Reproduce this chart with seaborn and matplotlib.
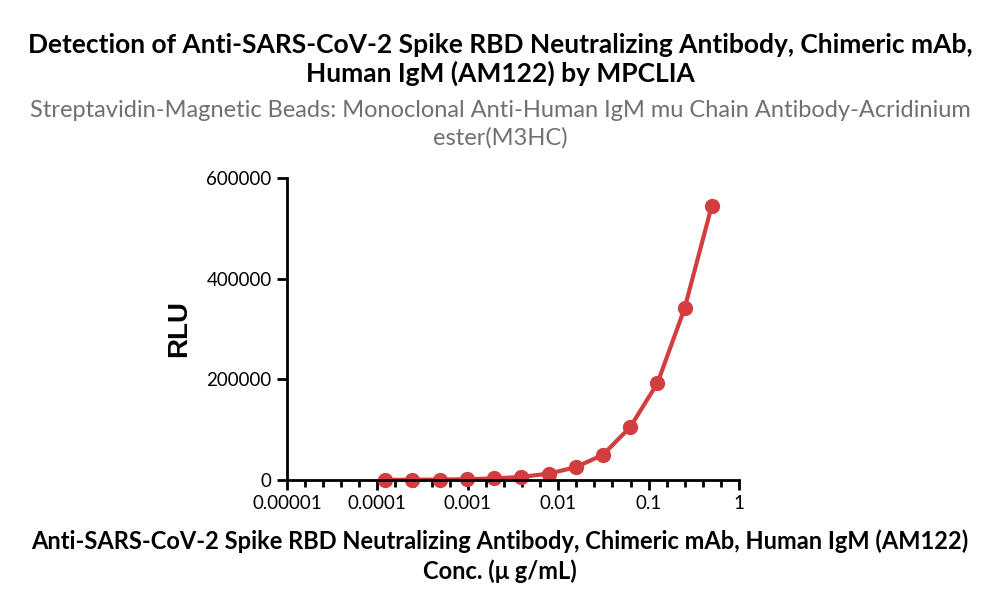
import numpy as np
import pandas as pd
import seaborn as sns
import matplotlib.pyplot as plt
from matplotlib.ticker import FixedLocator, NullFormatter

# concentrations (ug/mL), 2-fold serial dilution
conc = [0.5, 0.25, 0.125, 0.0625, 0.03125, 0.015625, 0.0078125,
        0.00390625, 0.001953125, 0.0009765625, 0.00048828125,
        0.000244140625, 0.0001220703125]
rlu = [545000, 341000, 192000, 105000, 50000, 25500, 12500,
       6200, 3000, 1600, 900, 500, 300]

x_ticks = [0.00001, 0.0001, 0.001, 0.01, 0.1, 1]
x_tick_labels = ["0.00001", "0.0001", "0.001", "0.01", "0.1", "1"]
y_ticks = [0, 200000, 400000, 600000]

title = ("Detection of Anti-SARS-CoV-2 Spike RBD Neutralizing Antibody, Chimeric mAb,\n"
         "Human IgM (AM122) by MPCLIA")
subtitle = ("Streptavidin-Magnetic Beads: Monoclonal Anti-Human IgM mu Chain Antibody-Acridinium\n"
            "ester(M3HC)")
xlabel = ("Anti-SARS-CoV-2 Spike RBD Neutralizing Antibody, Chimeric mAb, Human IgM (AM122)\n"
          "Conc. (\u03bc g/mL)")

df = pd.DataFrame({"conc": conc, "rlu": rlu})
red = "#d43d3f"

sns.set_style("ticks")
plt.rcParams['font.family'] = ['Lato', 'DejaVu Sans']
plt.rcParams['text.color'] = 'black'
plt.rcParams['xtick.color'] = 'black'
plt.rcParams['ytick.color'] = 'black'
plt.rcParams['axes.labelcolor'] = 'black'

fig = plt.figure(figsize=(10, 6.05), dpi=100)
ax = fig.add_axes([0.287, 0.2066, 0.452, 0.4992])

sns.lineplot(data=df, x="conc", y="rlu", color=red, linewidth=3, ax=ax,
             marker="o", markersize=11, markeredgewidth=0, clip_on=False)

ax.set_xscale("log")
ax.set_xlim(0.00001, 1)
ax.set_ylim(0, 600000)
ax.xaxis.set_major_locator(FixedLocator(x_ticks))
ax.set_xticklabels(x_tick_labels)
ax.xaxis.set_minor_locator(FixedLocator(10 ** np.arange(-5, 0, 0.2)))
ax.xaxis.set_minor_formatter(NullFormatter())
ax.set_yticks(y_ticks)
ax.set_yticklabels([str(v) for v in y_ticks])

for s in ["top", "right"]:
    ax.spines[s].set_visible(False)
for s in ["left", "bottom"]:
    ax.spines[s].set_linewidth(2)
    ax.spines[s].set_color("black")
ax.tick_params(axis="both", which="major", length=7, width=2, labelsize=13.5, pad=4)
ax.tick_params(axis="x", which="minor", length=5, width=2)

ax.set_xlabel("")
ax.set_ylabel("RLU", family=["Liberation Sans", "DejaVu Sans"], fontsize=20,
              fontweight="bold", labelpad=10)

fig.text(0.5, 0.902, title, ha="center", va="center", fontsize=19, fontweight="bold",
         linespacing=1.2)
fig.text(0.5, 0.795, subtitle, ha="center", va="center", fontsize=17, color="#707070",
         linespacing=1.33)
fig.text(0.5, 0.081, xlabel, ha="center", va="center", fontsize=17, fontweight="bold",
         linespacing=1.33)

fig.savefig("out.png", dpi=100)
